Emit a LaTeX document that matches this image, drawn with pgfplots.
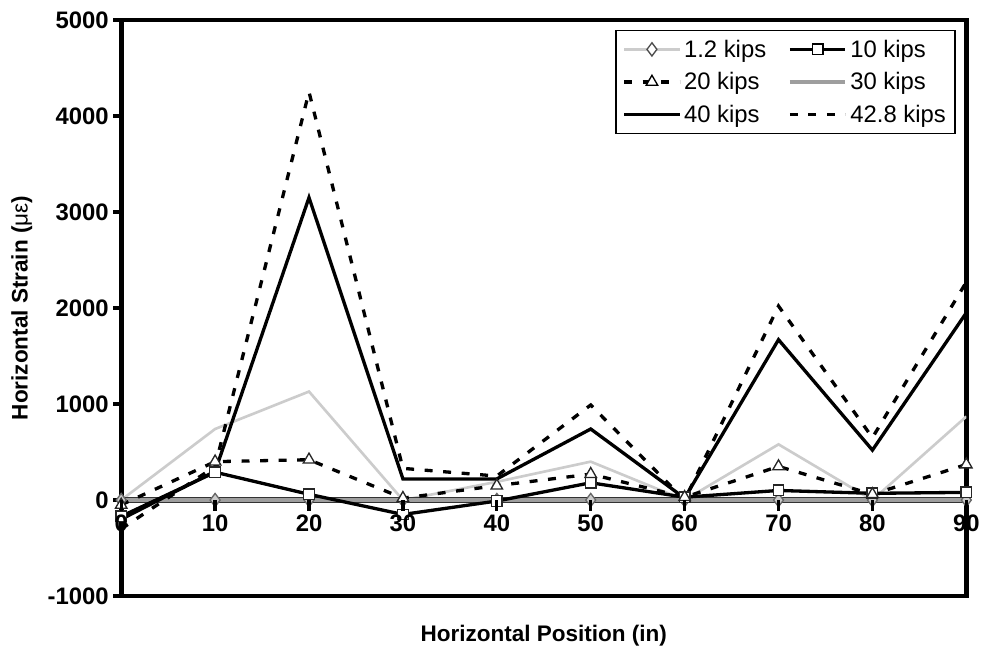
\documentclass[border=0pt]{standalone}
\usepackage{fontspec}
\setmainfont{Liberation Sans}
\usepackage{pgfplots}
\pgfplotsset{compat=1.18}
\definecolor{lgray}{gray}{0.80}
\definecolor{mgray}{gray}{0.62}
\begin{document}
\begin{tikzpicture}
\pgfplotsset{
  common/.style={
    scale only axis, width=638pt, height=435pt,
    xmin=0, xmax=90, ymin=-1000, ymax=5000,
    /pgf/number format/assume math mode=true,
    /pgf/number format/set thousands separator={},
    ticklabel style={font=\fontsize{18}{21}\selectfont\bfseries},
  }
}
\begin{axis}[common,
  axis line style={line width=3.5pt},
  xtick=\empty,
  ytick={-1000,0,1000,2000,3000,4000,5000},
  ytick pos=left,
  tick align=outside, major tick length=6pt,
  ytick style={line width=2.5pt, black},
  ylabel={Horizontal Strain (\textmd{με})},
  ylabel style={font=\fontsize{17}{20}\selectfont\bfseries, at={(axis description cs:-0.1175,0.5)}, anchor=center},
  xlabel={Horizontal Position (in)},
  xlabel style={font=\fontsize{17}{20}\selectfont\bfseries, at={(axis description cs:0.5,0)}, anchor=center, yshift=-30pt},
  legend columns=2,
  legend cell align=left,
  legend style={at={(1,1)}, anchor=north east, xshift=-8pt, yshift=-7.5pt,
    draw=black, line width=1pt, font=\fontsize{18}{21}\selectfont,
    /tikz/every even column/.append style={column sep=14pt},
    row sep=6pt, inner sep=5pt},
  legend image code/.code={\draw[mark repeat=2,mark phase=2] plot coordinates {(0pt,0pt)(21pt,0pt)(42pt,0pt)};},
]
\addlegendimage{color=lgray, line width=2.5pt, mark=diamond*, mark options={fill=white, draw=black!70, line width=1pt, mark size=5pt}}
\addlegendentry{1.2 kips}
\addlegendimage{black, line width=2.5pt, mark=square*, mark options={fill=white, draw=black, line width=1pt, mark size=4pt}}
\addlegendentry{10 kips}
\addlegendimage{black, line width=2.5pt, dash pattern=on 6pt off 8pt, mark=triangle*, mark options={solid, fill=white, draw=black, line width=1pt, mark size=5pt}}
\addlegendentry{20 kips}
\addlegendimage{mgray, line width=3.5pt}
\addlegendentry{30 kips}
\addlegendimage{black, line width=2.5pt}
\addlegendentry{40 kips}
\addlegendimage{black, line width=2.5pt, dash pattern=on 6pt off 8pt}
\addlegendentry{42.8 kips}

% 30 kips (light gray)
\addplot[forget plot, lgray, line width=2pt] coordinates {
(0,0) (10,740) (20,1130) (30,0) (40,190) (50,400) (60,0) (70,580) (80,0) (90,870)};
% 1.2 kips (zero band with diamonds)
\addplot[forget plot, black!80, line width=5pt] coordinates {
(0,0) (10,0) (20,0) (30,0) (40,0) (50,0) (60,0) (70,0) (80,0) (90,0)};
\addplot[forget plot, mgray, line width=3pt, mark=diamond*, mark options={fill=lgray, draw=black!60, line width=1pt, mark size=5pt}] coordinates {
(0,0) (10,0) (20,0) (30,0) (40,0) (50,0) (60,0) (70,0) (80,0) (90,0)};
% 10 kips
\addplot[forget plot, black, line width=2.5pt, mark=square*, mark options={fill=white, draw=black!85, line width=1pt, mark size=4pt}] coordinates {
(0,-170) (10,290) (20,60) (30,-150) (40,-10) (50,180) (60,30) (70,100) (80,70) (90,80)};
% 20 kips
\addplot[forget plot, black, line width=2.5pt, dash pattern=on 6pt off 8pt, mark=triangle*, mark options={solid, fill=white, draw=black!85, line width=1pt, mark size=5pt}] coordinates {
(0,-50) (10,400) (20,420) (30,20) (40,150) (50,270) (60,30) (70,350) (80,60) (90,370)};
% 40 kips
\addplot[forget plot, black, line width=2.5pt] coordinates {
(0,-200) (10,300) (20,3150) (30,220) (40,220) (50,740) (60,20) (70,1670) (80,520) (90,1950)};
% 42.8 kips
\addplot[forget plot, black, line width=2.5pt, dash pattern=on 6pt off 8pt] coordinates {
(0,-300) (10,350) (20,4250) (30,330) (40,250) (50,990) (60,0) (70,2020) (80,650) (90,2270)};
\end{axis}
\begin{axis}[common,
  axis x line*=middle, axis y line=none,
  axis line style={draw=none},
  xtick={0,10,20,30,40,50,60,70,80,90},
  ytick=\empty,
  tick align=outside, major tick length=8pt,
  xtick style={line width=2.5pt, black},
]
\end{axis}
\path (-91.5pt,-45.75pt) rectangle (646.25pt,450pt);
\end{tikzpicture}
\end{document}
